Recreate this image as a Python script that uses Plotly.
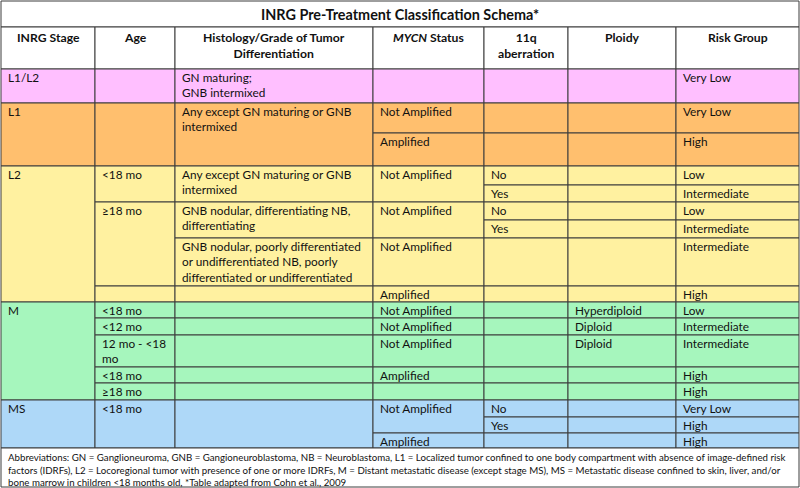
import plotly.graph_objects as go

# ---------------- data ----------------
TITLE = "INRG Pre-Treatment Classification Schema*"
HEADERS = ["INRG Stage", "Age", "Histology/Grade of Tumor<br>Differentiation",
           "<i>MYCN</i> Status", "11q<br>aberration", "Ploidy", "Risk Group"]

STAGES = ["L1/L2", "L1", "L2", "M", "MS"]
STAGE_COLORS = {"L1/L2": "#FFBFFF", "L1": "#FFBF6E", "L2": "#FFF1A0",
                "M": "#A6F6BD", "MS": "#AED8F8"}

# each cell: (stage, col_from, col_to, row_from, row_to, text)
CELLS = [
    # L1/L2
    ("L1/L2", 0, 1, 2, 3, "L1/L2"), ("L1/L2", 1, 2, 2, 3, ""),
    ("L1/L2", 2, 3, 2, 3, "GN maturing;<br>GNB intermixed"),
    ("L1/L2", 3, 4, 2, 3, ""), ("L1/L2", 4, 5, 2, 3, ""), ("L1/L2", 5, 6, 2, 3, ""),
    ("L1/L2", 6, 7, 2, 3, "Very Low"),
    # L1
    ("L1", 0, 1, 3, 5, "L1"), ("L1", 1, 2, 3, 5, ""),
    ("L1", 2, 3, 3, 5, "Any except GN maturing or GNB<br>intermixed"),
    ("L1", 3, 4, 3, 4, "Not Amplified"), ("L1", 4, 5, 3, 4, ""), ("L1", 5, 6, 3, 4, ""),
    ("L1", 6, 7, 3, 4, "Very Low"),
    ("L1", 3, 4, 4, 5, "Amplified"), ("L1", 4, 5, 4, 5, ""), ("L1", 5, 6, 4, 5, ""),
    ("L1", 6, 7, 4, 5, "High"),
    # L2
    ("L2", 0, 1, 5, 11, "L2"),
    ("L2", 1, 2, 5, 7, "<18 mo"),
    ("L2", 2, 3, 5, 7, "Any except GN maturing or GNB<br>intermixed"),
    ("L2", 3, 4, 5, 7, "Not Amplified"),
    ("L2", 4, 5, 5, 6, "No"), ("L2", 5, 6, 5, 6, ""), ("L2", 6, 7, 5, 6, "Low"),
    ("L2", 4, 5, 6, 7, "Yes"), ("L2", 5, 6, 6, 7, ""), ("L2", 6, 7, 6, 7, "Intermediate"),
    ("L2", 1, 2, 7, 10, "≥18 mo"),
    ("L2", 2, 3, 7, 9, "GNB nodular, differentiating NB,<br>differentiating"),
    ("L2", 3, 4, 7, 9, "Not Amplified"),
    ("L2", 4, 5, 7, 8, "No"), ("L2", 5, 6, 7, 8, ""), ("L2", 6, 7, 7, 8, "Low"),
    ("L2", 4, 5, 8, 9, "Yes"), ("L2", 5, 6, 8, 9, ""), ("L2", 6, 7, 8, 9, "Intermediate"),
    ("L2", 2, 3, 9, 10, "GNB nodular, poorly differentiated<br>or undifferentiated NB, poorly<br>differentiated or undifferentiated"),
    ("L2", 3, 4, 9, 10, "Not Amplified"), ("L2", 4, 5, 9, 10, ""), ("L2", 5, 6, 9, 10, ""),
    ("L2", 6, 7, 9, 10, "Intermediate"),
    ("L2", 1, 2, 10, 11, ""), ("L2", 2, 3, 10, 11, ""), ("L2", 3, 4, 10, 11, "Amplified"),
    ("L2", 4, 5, 10, 11, ""), ("L2", 5, 6, 10, 11, ""), ("L2", 6, 7, 10, 11, "High"),
    # M
    ("M", 0, 1, 11, 16, "M"),
    ("M", 1, 2, 11, 12, "<18 mo"), ("M", 2, 3, 11, 12, ""), ("M", 3, 4, 11, 12, "Not Amplified"),
    ("M", 4, 5, 11, 12, ""), ("M", 5, 6, 11, 12, "Hyperdiploid"), ("M", 6, 7, 11, 12, "Low"),
    ("M", 1, 2, 12, 13, "<12 mo"), ("M", 2, 3, 12, 13, ""), ("M", 3, 4, 12, 13, "Not Amplified"),
    ("M", 4, 5, 12, 13, ""), ("M", 5, 6, 12, 13, "Diploid"), ("M", 6, 7, 12, 13, "Intermediate"),
    ("M", 1, 2, 13, 14, "12 mo - <18<br>mo"), ("M", 2, 3, 13, 14, ""), ("M", 3, 4, 13, 14, "Not Amplified"),
    ("M", 4, 5, 13, 14, ""), ("M", 5, 6, 13, 14, "Diploid"), ("M", 6, 7, 13, 14, "Intermediate"),
    ("M", 1, 2, 14, 15, "<18 mo"), ("M", 2, 3, 14, 15, ""), ("M", 3, 4, 14, 15, "Amplified"),
    ("M", 4, 5, 14, 15, ""), ("M", 5, 6, 14, 15, ""), ("M", 6, 7, 14, 15, "High"),
    ("M", 1, 2, 15, 16, "≥18 mo"), ("M", 2, 3, 15, 16, ""), ("M", 3, 4, 15, 16, ""),
    ("M", 4, 5, 15, 16, ""), ("M", 5, 6, 15, 16, ""), ("M", 6, 7, 15, 16, "High"),
    # MS
    ("MS", 0, 1, 16, 19, "MS"), ("MS", 1, 2, 16, 19, "<18 mo"), ("MS", 2, 3, 16, 19, ""),
    ("MS", 3, 4, 16, 18, "Not Amplified"),
    ("MS", 4, 5, 16, 17, "No"), ("MS", 5, 6, 16, 17, ""), ("MS", 6, 7, 16, 17, "Very Low"),
    ("MS", 4, 5, 17, 18, "Yes"), ("MS", 5, 6, 17, 18, ""), ("MS", 6, 7, 17, 18, "High"),
    ("MS", 3, 4, 18, 19, "Amplified"), ("MS", 4, 5, 18, 19, ""), ("MS", 5, 6, 18, 19, ""),
    ("MS", 6, 7, 18, 19, "High"),
]

FOOTNOTE = ("Abbreviations: GN = Ganglioneuroma, GNB = Gangioneuroblastoma, NB = Neuroblastoma, "
            "L1 = Localized tumor confined to one body compartment with absence of image-defined risk<br>"
            "factors (IDRFs), L2 = Locoregional tumor with presence of one or more IDRFs, "
            "M = Distant metastatic disease (except stage MS), MS = Metastatic disease confined to skin, liver, and/or<br>"
            "bone marrow in children <18 months old, *Table adapted from Cohn et al., 2009")

# ---------------- layout grid (pixel positions) ----------------
COL_EDGES = [1, 95, 175, 373, 484, 568, 676, 799]
ROW_EDGES = [1, 27, 69, 103, 133, 166, 185, 202, 220, 238, 286, 302,
             318, 335, 367, 383, 400, 417, 433, 448, 487]

LINE = dict(color="#3C3C3C", width=1)
FONT = "Lato, 'Open Sans', sans-serif"
TXT = "#111111"
BODY_SIZE = 11.8
HEAD_SIZE = 12.2
TITLE_SIZE = 14.4
FOOT_SIZE = 9.7

fig = go.Figure()
shapes = []
annotations = []


def rect(c0, c1, r0, r1, fill):
    shapes.append(dict(type="rect", xref="x", yref="y",
                       x0=COL_EDGES[c0], x1=COL_EDGES[c1],
                       y0=ROW_EDGES[r0], y1=ROW_EDGES[r1],
                       fillcolor=fill, line=LINE, layer="below"))


# title
rect(0, 7, 0, 1, "white")
annotations.append(dict(x=(COL_EDGES[0] + COL_EDGES[7]) / 2, y=(ROW_EDGES[0] + ROW_EDGES[1]) / 2,
                        xref="x", yref="y", text="<b>" + TITLE + "</b>", showarrow=False,
                        xanchor="center", yanchor="middle",
                        font=dict(family=FONT, size=TITLE_SIZE, color=TXT)))
# headers
for i, h in enumerate(HEADERS):
    rect(i, i + 1, 1, 2, "white")
    annotations.append(dict(x=(COL_EDGES[i] + COL_EDGES[i + 1]) / 2, y=ROW_EDGES[1] + 1,
                            xref="x", yref="y", text="<b>" + h + "</b>", showarrow=False,
                            xanchor="center", yanchor="top", align="center",
                            font=dict(family=FONT, size=HEAD_SIZE, color=TXT)))
# body cells
for stage, c0, c1, r0, r1, text in CELLS:
    rect(c0, c1, r0, r1, STAGE_COLORS[stage])
    if text:
        annotations.append(dict(x=COL_EDGES[c0] + 5, y=ROW_EDGES[r0] - 1,
                                xref="x", yref="y", text=text, showarrow=False,
                                xanchor="left", yanchor="top", align="left",
                                font=dict(family=FONT, size=BODY_SIZE, color=TXT)))
# footnote
rect(0, 7, 19, 20, "white")
annotations.append(dict(x=COL_EDGES[0] + 5, y=ROW_EDGES[19] + 1, xref="x", yref="y",
                        text=FOOTNOTE, showarrow=False, xanchor="left", yanchor="top",
                        align="left", font=dict(family=FONT, size=FOOT_SIZE, color=TXT)))

fig.update_layout(
    width=800, height=488, margin=dict(l=0, r=0, t=0, b=0),
    paper_bgcolor="white", plot_bgcolor="white",
    xaxis=dict(range=[0, 800], visible=False, fixedrange=True),
    yaxis=dict(range=[488, 0], visible=False, fixedrange=True),
    shapes=shapes, annotations=annotations, showlegend=False,
)
fig.write_html("out.html", config={"displayModeBar": False},
               post_script="document.body.style.margin='0';document.body.style.overflow='hidden';")
